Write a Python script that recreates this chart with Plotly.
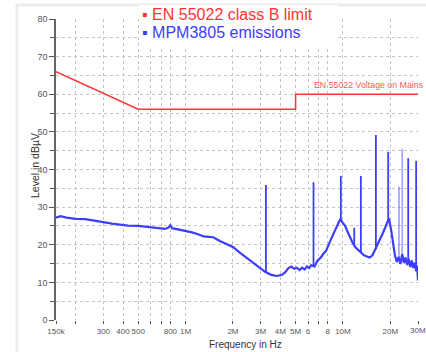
import plotly.graph_objects as go
import math

# ---- data ----
limit_freq = [150e3, 500e3, 5e6, 5e6, 30e6]
limit_level = [66, 56, 56, 60, 60]

emis_freq = [150e3, 160e3, 175e3, 200e3, 230e3, 260e3, 300e3, 340e3, 380e3, 430e3,
             500e3, 560e3, 620e3, 690e3, 740e3, 780e3, 800e3, 820e3, 900e3, 1.0e6,
             1.1e6, 1.2e6, 1.3e6, 1.4e6, 1.5e6, 1.65e6, 1.8e6, 2.0e6, 2.2e6, 2.4e6,
             2.6e6, 2.8e6, 3.0e6, 3.2e6, 3.5e6, 3.8e6, 4.1e6, 4.3e6, 4.5e6, 4.7e6,
             4.9e6, 5.1e6, 5.3e6, 5.5e6, 5.7e6, 5.9e6, 6.1e6, 6.3e6, 6.6e6, 6.9e6,
             7.2e6, 7.5e6, 7.8e6, 8.1e6, 8.4e6, 8.7e6, 9.0e6, 9.3e6, 9.6e6, 9.9e6,
             10.3e6, 10.7e6, 11.1e6, 11.5e6, 12.0e6, 12.5e6, 13.0e6, 13.6e6, 14.2e6, 14.8e6,
             15.4e6, 16.0e6, 16.6e6, 17.2e6, 17.8e6, 18.4e6, 19.0e6, 19.6e6, 20.2e6, 20.8e6,
             21.4e6, 22.0e6, 22.6e6, 23.2e6, 23.8e6, 24.4e6, 25.0e6, 25.6e6, 26.2e6, 26.8e6,
             27.4e6, 28.0e6, 28.6e6, 29.2e6, 29.6e6, 30.0e6]
emis_level = [27.2, 27.6, 27.2, 26.9, 26.8, 26.5, 26.0, 25.6, 25.3, 25.1,
              25.0, 24.8, 24.6, 24.4, 24.2, 24.6, 25.2, 24.4, 24.1, 23.7,
              23.3, 22.8, 22.2, 22.1, 22.0, 21.0, 20.3, 19.4, 18.0, 16.8,
              15.7, 14.6, 13.6, 12.8, 12.0, 11.7, 12.0, 12.7, 13.8, 14.2,
              13.6, 13.9, 13.3, 13.9, 13.4, 14.2, 13.8, 14.6, 14.2, 15.8,
              16.5, 17.6, 18.3, 20.2, 21.5, 22.9, 24.2, 25.8, 26.8, 26.0,
              25.1, 23.5, 21.8, 20.6, 19.3, 18.6, 18.0, 17.2, 16.9, 16.6,
              17.2, 18.6, 20.4, 21.6, 22.8, 24.2, 25.6, 27.0, 24.2, 20.5,
              17.2, 15.4, 16.8, 14.9, 17.5, 15.2, 16.6, 14.6, 16.2, 14.1,
              15.8, 13.8, 15.2, 13.0, 14.4, 10.5]

spike_freq = [3.24e6, 6.5e6, 9.7e6, 11.8e6, 13.0e6, 16.2e6, 19.4e6, 26.0e6, 29.2e6]
spike_base = [12.6, 14.2, 26.5, 19.8, 18.0, 18.8, 26.5, 16.0, 13.0]
spike_peak = [35.9, 36.6, 38.3, 24.5, 38.3, 49.2, 44.7, 43.0, 42.3]

faint_spike_freq = [22.7e6, 23.8e6]
faint_spike_base = [16.0, 17.0]
faint_spike_peak = [35.4, 45.5]

tick_vals = [150e3, 200e3, 300e3, 400e3, 500e3, 600e3, 700e3, 800e3, 1e6,
             2e6, 3e6, 4e6, 5e6, 6e6, 7e6, 8e6, 10e6, 20e6, 30e6]
tick_text = ["150k", "", "300", "400", "500", "", "", "800", "1M",
             "2M", "3M", "4M", "5M", "6", "", "8", "10M", "20M", ""]
edge_label_freq = 30e6
edge_label_text = "30M"

BLUE = "#3d3dff"
RED = "#ff3333"


def spike_xy(fs, bs, ps):
    xs, ys = [], []
    for f, b, p in zip(fs, bs, ps):
        xs += [f, f, None]
        ys += [b, p, None]
    return xs, ys


fig = go.Figure()
fig.add_trace(go.Scatter(x=limit_freq, y=limit_level, mode="lines",
                         line=dict(color=RED, width=1.5), showlegend=False))
fig.add_trace(go.Scatter(x=emis_freq, y=emis_level, mode="lines",
                         line=dict(color=BLUE, width=2.2), showlegend=False))
sx, sy = spike_xy(spike_freq, spike_base, spike_peak)
fig.add_trace(go.Scatter(x=sx, y=sy, mode="lines",
                         line=dict(color=BLUE, width=1.8), showlegend=False))
fx, fy = spike_xy(faint_spike_freq, faint_spike_base, faint_spike_peak)
fig.add_trace(go.Scatter(x=fx, y=fy, mode="lines",
                         line=dict(color="rgba(61,61,255,0.45)", width=1.8), showlegend=False))

L, R, T, B = 56, 8, 19, 32
W, H = 426, 352
pw, ph = W - L - R, H - T - B


def px(xp):
    return (xp - L) / pw


def py(yp):
    return (H - B - yp) / ph


fig.update_layout(
    width=W, height=H,
    margin=dict(l=L, r=R, t=T, b=B, autoexpand=False),
    paper_bgcolor="white", plot_bgcolor="white",
    font=dict(family="Liberation Sans, Arial", color="#444"),
    xaxis=dict(type="log", range=[math.log10(150e3), math.log10(30e6)],
               tickvals=tick_vals, ticktext=tick_text, tickangle=0,
               tickfont=dict(size=8, color="#555"), automargin=False,
               ticks="outside", ticklen=3, tickcolor="#555", tickwidth=1,
               showgrid=True, gridcolor="#c4c4c4", griddash="dot", gridwidth=1,
               showline=False, zeroline=False),
    yaxis=dict(range=[0, 80], dtick=10, tick0=0, automargin=False,
               tickfont=dict(size=9, color="#555"),
               ticks="outside", ticklen=5, tickcolor="#555",
               showgrid=True, gridcolor="#c4c4c4", griddash="dot",
               minor=dict(dtick=5, showgrid=True, gridcolor="#c4c4c4", griddash="dot",
                          ticks="outside", ticklen=4, tickcolor="#555"),
               showline=True, linecolor="#666", linewidth=1.5,
               zeroline=False),
)

# outer light frame
fig.add_shape(type="rect", xref="paper", yref="paper",
              x0=px(17), x1=px(W + 10), y0=py(H + 10), y1=py(5),
              line=dict(color="#ececec", width=3), fillcolor="rgba(0,0,0,0)", layer="below")

# legend box
fig.add_shape(type="rect", xref="paper", yref="paper",
              x0=px(139), x1=px(338), y0=py(46), y1=py(5),
              line=dict(width=0), fillcolor="white", layer="above")
fig.add_annotation(xref="paper", yref="paper", x=px(140), y=py(14),
                   text="▪ EN 55022 class B limit", showarrow=False,
                   xanchor="left", yanchor="middle",
                   font=dict(size=16, color=RED, family="Liberation Sans, Arial"))
fig.add_annotation(xref="paper", yref="paper", x=px(140), y=py(33),
                   text="▪ MPM3805 emissions", showarrow=False,
                   xanchor="left", yanchor="middle",
                   font=dict(size=16, color=BLUE, family="Liberation Sans, Arial"))

# limit label
fig.add_annotation(xref="x", yref="y", x=math.log10(6.4e6), y=60.6,
                   text="EN 55022 Voltage on Mains", showarrow=False,
                   xanchor="left", yanchor="bottom",
                   font=dict(size=8.8, color="#ff5555"))

# right-edge tick label (reference shows it at the very edge)
fig.add_annotation(xref="x", yref="paper", x=math.log10(edge_label_freq), y=py(330),
                   text=edge_label_text, showarrow=False,
                   xanchor="center", yanchor="middle",
                   font=dict(size=8, color="#555"))

# axis titles
fig.add_annotation(xref="paper", yref="paper", x=px(245), y=py(344),
                   text="Frequency in Hz", showarrow=False,
                   xanchor="center", yanchor="middle",
                   font=dict(size=10, color="#333"))
fig.add_annotation(xref="paper", yref="paper", x=px(35), y=py(166),
                   text="Level in dBµV", showarrow=False, textangle=-90,
                   xanchor="center", yanchor="middle",
                   font=dict(size=10.5, color="#333"))

fig.write_html("out.html", config={"displayModeBar": False},
               post_script="document.body.style.margin='0';document.body.style.overflow='hidden';")
